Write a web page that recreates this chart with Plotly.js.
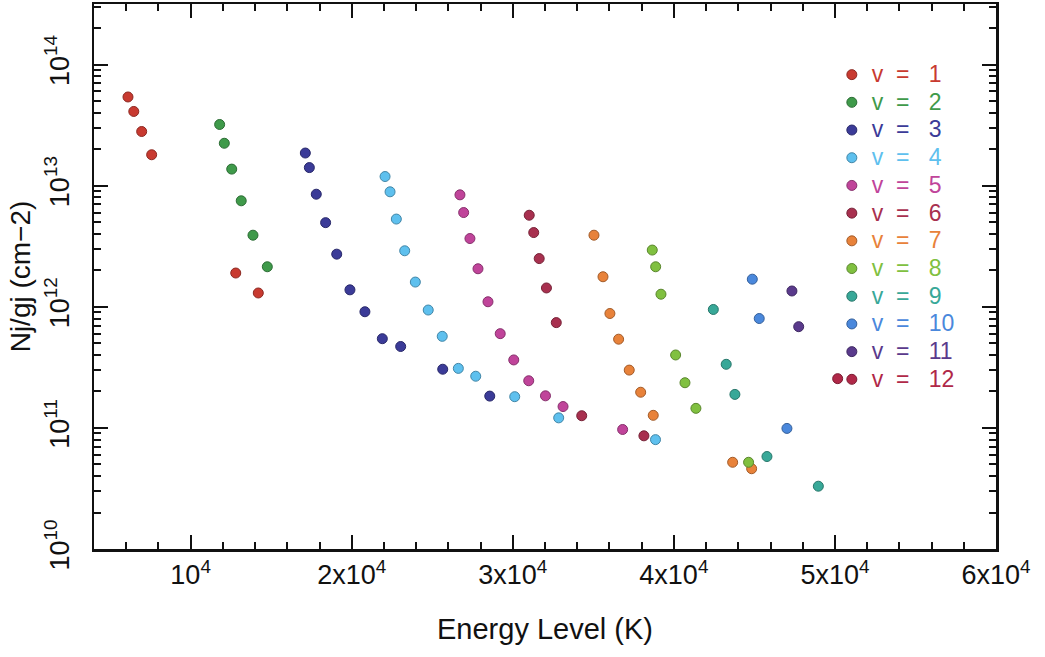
<!DOCTYPE html>
<html>
<head>
<meta charset="utf-8">
<script src="https://cdn.plot.ly/plotly-3.0.1.min.js"></script>
<style>html,body{margin:0;padding:0;background:#fff;}#plot{width:1045px;height:657px;}</style>
</head>
<body>
<div id="plot"></div>
<script>
// Energy level (K) and Nj/gj (cm-2) for each vibrational level v
const E_v1 = [6110, 6470, 6960, 7580, 12800, 14200];
const N_v1 = [5.4e13, 4.1e13, 2.8e13, 1.8e13, 1.9e12, 1.3e12];
const E_v2 = [11800, 12090, 12550, 13140, 13870, 14760];
const N_v2 = [3.2e13, 2.24e13, 1.37e13, 7.5e12, 3.9e12, 2.14e12];
const E_v3 = [17120, 17370, 17800, 18380, 19070, 19890, 20820, 21900, 23040, 25650, 28570];
const N_v3 = [1.86e13, 1.41e13, 8.5e12, 4.95e12, 2.72e12, 1.38e12, 9.1e11, 5.45e11, 4.7e11, 3.05e11, 1.83e11];
const E_v4 = [22070, 22380, 22770, 23290, 23950, 24750, 25620, 26620, 27700, 30120, 32850, 38860];
const N_v4 = [1.19e13, 8.9e12, 5.3e12, 2.9e12, 1.6e12, 9.4e11, 5.7e11, 3.1e11, 2.67e11, 1.81e11, 1.21e11, 8.0e10];
const E_v5 = [26720, 26950, 27340, 27840, 28460, 29220, 30060, 30990, 32030, 33120, 36820];
const N_v5 = [8.4e12, 6.0e12, 3.66e12, 2.06e12, 1.1e12, 6.0e11, 3.64e11, 2.45e11, 1.84e11, 1.5e11, 9.7e10];
const E_v6 = [31020, 31300, 31640, 32090, 32700, 34280, 38140];
const N_v6 = [5.7e12, 4.1e12, 2.5e12, 1.43e12, 7.4e11, 1.26e11, 8.6e10];
const E_v7 = [35040, 35600, 36030, 36570, 37230, 37940, 38720, 43650, 44830];
const N_v7 = [3.9e12, 1.77e12, 8.8e11, 5.4e11, 3.0e11, 1.97e11, 1.27e11, 5.2e10, 4.6e10];
const E_v8 = [38660, 38870, 39200, 40110, 40690, 41370, 44640];
const N_v8 = [2.94e12, 2.14e12, 1.27e12, 4.0e11, 2.36e11, 1.45e11, 5.2e10];
const E_v9 = [42450, 43250, 43790, 45780, 48970];
const N_v9 = [9.5e11, 3.35e11, 1.89e11, 5.8e10, 3.3e10];
const E_v10 = [44870, 45300, 47020];
const N_v10 = [1.69e12, 8.0e11, 9.9e10];
const E_v11 = [47330, 47750];
const N_v11 = [1.35e12, 6.85e11];
const E_v12 = [50170];
const N_v12 = [2.55e11];

const seriesLabels = ['v = 1','v = 2','v = 3','v = 4','v = 5','v = 6','v = 7','v = 8','v = 9','v = 10','v = 11','v = 12'];
const seriesColors = ['#c83a30','#3f9a4a','#3b3b98','#5ec0ee','#c0449a','#a8304f','#e8823a','#80c040','#38a898','#4a88dc','#5a3a8c','#b02848'];

const xTickVals = [10000, 20000, 30000, 40000, 50000, 60000];
const xTickText = ['10<sup>4</sup>','2x10<sup>4</sup>','3x10<sup>4</sup>','4x10<sup>4</sup>','5x10<sup>4</sup>','6x10<sup>4</sup>'];
const yTickVals = [1e10, 1e11, 1e12, 1e13, 1e14];
const yTickText = ['10<sup>10</sup>','10<sup>11</sup>','10<sup>12</sup>','10<sup>13</sup>','10<sup>14</sup>'];

const Es = [E_v1,E_v2,E_v3,E_v4,E_v5,E_v6,E_v7,E_v8,E_v9,E_v10,E_v11,E_v12];
const Ns = [N_v1,N_v2,N_v3,N_v4,N_v5,N_v6,N_v7,N_v8,N_v9,N_v10,N_v11,N_v12];

function darker(hex, f) {
  const n = parseInt(hex.slice(1), 16);
  const r = Math.round(((n >> 16) & 255) * f), g = Math.round(((n >> 8) & 255) * f), b = Math.round((n & 255) * f);
  return 'rgb(' + r + ',' + g + ',' + b + ')';
}

const spL = '\u00a0\u00a0';
const spR = '\u00a0\u00a0\u00a0';
const traces = Es.map((E, i) => {
  const parts = seriesLabels[i].split(' = ');
  return {
    type: 'scatter', mode: 'markers',
    x: E, y: Ns[i],
    name: '<span style="color:' + seriesColors[i] + ';font-size:23px">' + parts[0] + spL + '=' + spR + parts[1] + '</span>',
    marker: {size: 10, color: seriesColors[i], line: {width: 1, color: darker(seriesColors[i], 0.7)}}
  };
});

const minorY = [];
for (let e = 10; e <= 14; e++) for (let m = 2; m <= 9; m++) minorY.push(m * Math.pow(10, e));

const font = 'Liberation Sans, Arial, sans-serif';
const layout = {
  width: 1045, height: 657,
  margin: {l: 94, r: 49, t: 4, b: 108},
  paper_bgcolor: '#ffffff', plot_bgcolor: '#ffffff',
  font: {family: font, color: '#111'},
  showlegend: true,
  legend: {x: 0.818, y: 0.905, xanchor: 'left', yanchor: 'top', bgcolor: 'rgba(0,0,0,0)',
           font: {family: font, size: 19, color: '#333'}, itemsizing: 'trace', tracegroupgap: 0},
  xaxis: {
    range: [4000, 60000], showgrid: false, zeroline: false,
    showline: true, linewidth: 2.5, linecolor: '#111', mirror: 'ticks',
    ticks: 'inside', ticklen: 14, tickwidth: 2, tickcolor: '#111',
    tickmode: 'array', tickvals: xTickVals, ticktext: xTickText,
    tickfont: {family: font, size: 27, color: '#111'},
    minor: {ticks: 'inside', ticklen: 7, tickwidth: 2, tickcolor: '#111', dtick: 2000, tick0: 0, showgrid: false},
    title: {text: 'Energy Level (K)', font: {family: font, size: 29, color: '#111'}, standoff: 30}
  },
  yaxis: {
    type: 'log', range: [10, 14.5], showgrid: false, zeroline: false,
    showline: true, linewidth: 2.5, linecolor: '#111', mirror: 'ticks',
    ticks: 'inside', ticklen: 14, tickwidth: 2, tickcolor: '#111',
    tickmode: 'array', tickvals: yTickVals, ticktext: yTickText, tickangle: -90,
    ticklabelstandoff: 12,
    tickfont: {family: font, size: 27, color: '#111'},
    minor: {ticks: 'inside', ticklen: 7, tickwidth: 2, tickcolor: '#111', tickmode: 'array', tickvals: minorY, showgrid: false},
    title: {text: 'Nj/gj (cm\u22122)', font: {family: font, size: 28, color: '#111'}, standoff: 2}
  }
};

Plotly.newPlot('plot', traces, layout, {displayModeBar: false, staticPlot: true});
</script>
</body>
</html>
